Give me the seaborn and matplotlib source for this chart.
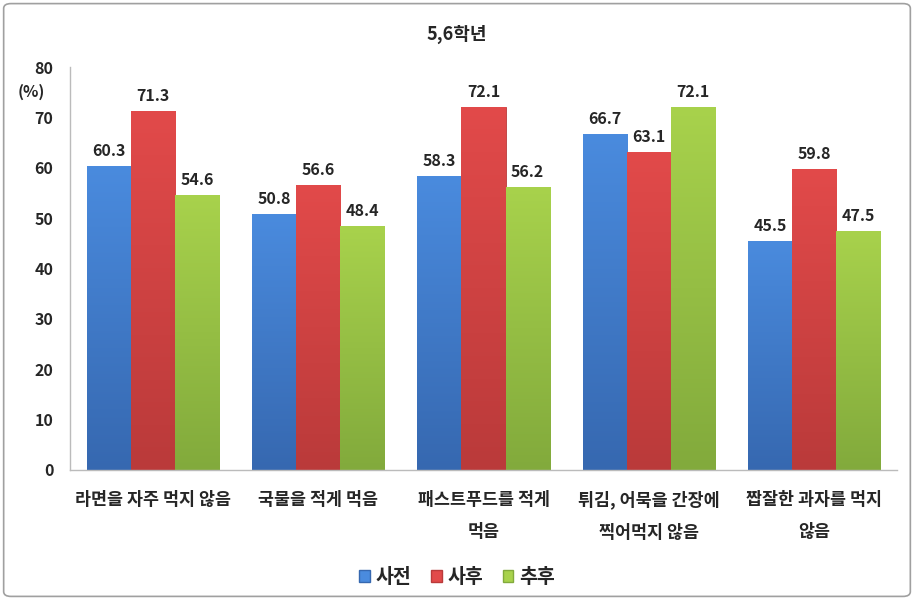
import numpy as np
import pandas as pd
import matplotlib
matplotlib.use("Agg")
import matplotlib.pyplot as plt
import seaborn as sns
from matplotlib.colors import LinearSegmentedColormap
from matplotlib.patches import FancyBboxPatch

categories = ["라면을 자주 먹지 않음", "국물을 적게 먹음", "패스트푸드를 적게\n먹음",
              "튀김, 어묵을 간장에\n찍어먹지 않음", "짭잘한 과자를 먹지\n않음"]
series = ["사전", "사후", "추후"]
pre = [60.3, 50.8, 58.3, 66.7, 45.5]
post = [71.3, 56.6, 72.1, 63.1, 59.8]
follow = [54.6, 48.4, 56.2, 72.1, 47.5]
y_ticks = [0, 10, 20, 30, 40, 50, 60, 70, 80]

top_cols = {"사전": "#4A8BDE", "사후": "#E24A4A", "추후": "#A8D24C"}
bot_cols = {"사전": "#3668B0", "사후": "#BA3A3A", "추후": "#82AA3C"}

sns.set_theme(style="white")
plt.rcParams['font.family'] = ['Noto Sans CJK KR', 'DejaVu Sans']

df = pd.DataFrame({
    "cat": np.repeat(categories, 3),
    "series": series * len(categories),
    "value": [v for trio in zip(pre, post, follow) for v in trio],
})

fig = plt.figure(figsize=(9.14, 6.0), dpi=100)
ax = fig.add_axes([0.0766, 0.2167, 0.9048, 0.6716])

palette = [top_cols[s] for s in series]
sns.barplot(data=df, x="cat", y="value", hue="series", hue_order=series,
            order=categories, palette=palette, width=0.8, ax=ax, legend=False,
            errorbar=None, saturation=1)

ax.set_ylim(0, 80)
ax.set_yticks(y_ticks)
ax.set_yticklabels([str(t) for t in y_ticks], fontsize=11.5, fontweight="bold")
ax.set_xlim(-0.5, len(categories) - 0.5)
ax.set_xlabel("")
ax.set_ylabel("")
for lab in ax.get_xticklabels():
    lab.set_fontsize(12.5)
    lab.set_fontweight("bold")
    lab.set_linespacing(2.0)
ax.tick_params(axis="x", pad=15, length=0)
ax.tick_params(axis="y", pad=12, length=0)
for s in ["top", "right"]:
    ax.spines[s].set_visible(False)
for s in ["left", "bottom"]:
    ax.spines[s].set_color("#BBBBBB")
    ax.spines[s].set_linewidth(1.0)

# gradient fill for each bar
for container, s in zip(ax.containers, series):
    cmap = LinearSegmentedColormap.from_list("g", [bot_cols[s], top_cols[s]])
    for bar in container:
        x0 = bar.get_x(); w = bar.get_width(); h = bar.get_height()
        grad = np.linspace(0, 1, 256).reshape(-1, 1)
        im = ax.imshow(grad, extent=[x0, x0 + w, 0, h], origin="lower",
                       aspect="auto", cmap=cmap, zorder=bar.get_zorder() + 0.1)
        im.set_clip_path(bar)
        bar.set_edgecolor(bot_cols[s])
        bar.set_linewidth(0.6)
    ax.bar_label(container, fmt="%.1f", padding=5, fontsize=11.5, fontweight="bold")
ax.set_xlim(-0.5, len(categories) - 0.5)
ax.set_ylim(0, 80)

fig.text(0.019, 0.847, "(%)", fontsize=11.5, fontweight="bold", ha="left", va="center")
fig.text(0.5, 0.942, "5,6학년", fontsize=13, fontweight="bold", ha="center", va="center")

handles = [plt.Rectangle((0, 0), 1, 1, facecolor=top_cols[s], edgecolor=bot_cols[s]) for s in series]
fig.legend(handles, series, loc="center", bbox_to_anchor=(0.5, 0.038), ncol=3, frameon=False,
           prop={"size": 14, "weight": "bold"}, handlelength=0.55, handleheight=0.55,
           handletextpad=0.3, columnspacing=1.0)

border = FancyBboxPatch((0.004, 0.006), 0.992, 0.988, boxstyle="round,pad=0,rounding_size=0.008",
                        transform=fig.transFigure, fill=False, edgecolor="#A0A0A0", linewidth=1.2)
fig.patches.append(border)

fig.savefig("out.png", dpi=100)
